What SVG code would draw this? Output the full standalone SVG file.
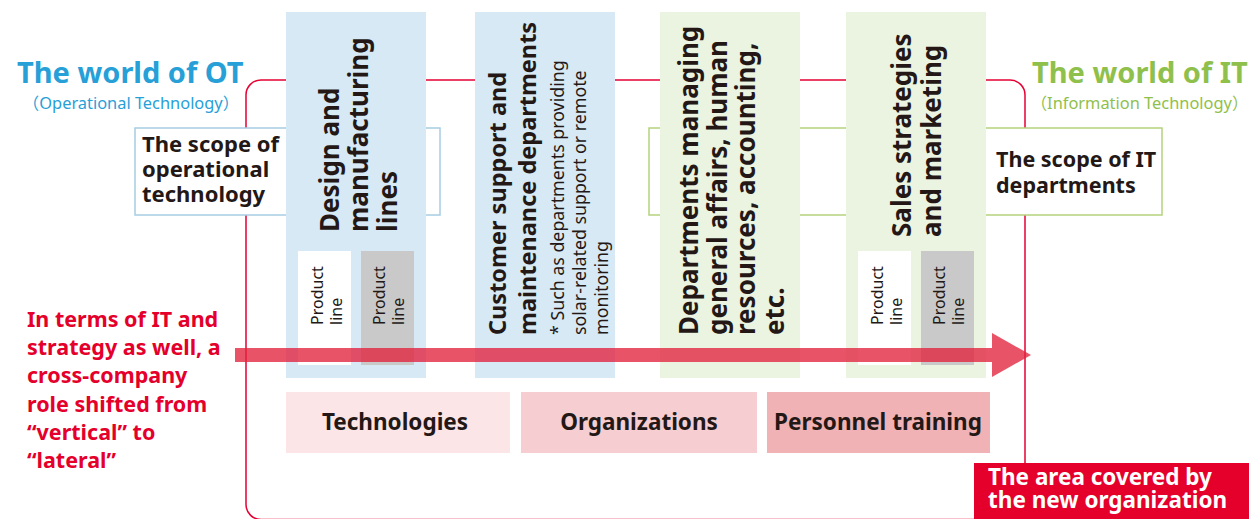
<svg xmlns="http://www.w3.org/2000/svg" width="1249" height="519" viewBox="0 0 1249 519">
<defs>
<style>
.t{font-family:"Noto Sans","Open Sans","Noto Sans CJK JP",sans-serif;fill:#231815}
.b{font-weight:bold}
.col{font-size:26px;font-weight:bold}
.col2{font-size:23.5px;font-weight:bold}
.note{font-size:17.8px}
.pl{font-size:16px}
.lab{font-size:22.5px;font-weight:bold;text-anchor:middle}
.blue{fill:#d7e9f4}
.green{fill:#ebf3e1}
</style>
</defs>
<rect width="1249" height="519" fill="#ffffff"/>

<g id="frame">
<rect x="246" y="80" width="779" height="439.5" rx="15" ry="15" fill="none" stroke="#e60033" stroke-width="1.5"/>
</g>

<g id="ot-title">
<text class="t b" x="17" y="83" font-size="29" style="fill:#27a0d8">The world of OT</text>
<text class="t" x="131" y="109" font-size="16.4" text-anchor="middle" style="fill:#27a0d8">（Operational Technology）</text>
</g>
<g id="it-title">
<text class="t b" x="1032" y="83" font-size="29" style="fill:#8fc04b">The world of IT</text>
<text class="t" x="1139.5" y="109" font-size="16.4" text-anchor="middle" style="fill:#8fc04b">（Information Technology）</text>
</g>

<g id="ot-scope">
<rect x="135" y="128" width="305" height="87" fill="#ffffff" stroke="#a7cde3" stroke-width="1.5"/>
<text class="t b" font-size="22"><tspan x="142" y="152">The scope of</tspan><tspan x="142" y="177">operational</tspan><tspan x="142" y="202">technology</tspan></text>
</g>
<g id="it-scope">
<rect x="649" y="128" width="513" height="87" fill="#ffffff" stroke="#b5d27c" stroke-width="1.5"/>
<text class="t b" font-size="21.5"><tspan x="996" y="167">The scope of IT</tspan><tspan x="996" y="193">departments</tspan></text>
</g>

<g id="col-design">
<rect class="blue" x="286" y="12" width="140" height="366"/>
<text class="t col" transform="translate(339,232) rotate(-90)"><tspan x="0" y="0">Design and</tspan><tspan x="0" y="29">manufacturing</tspan><tspan x="0" y="58">lines</tspan></text>
<rect x="298" y="251" width="53" height="114" fill="#ffffff"/>
<rect x="361" y="251" width="53" height="114" fill="#c9c9c9"/>
<text class="t pl" transform="translate(323,325) rotate(-90)"><tspan x="0" y="0">Product</tspan><tspan x="0" y="19">line</tspan></text>
<text class="t pl" transform="translate(385,325) rotate(-90)"><tspan x="0" y="0">Product</tspan><tspan x="0" y="19">line</tspan></text>
</g>

<g id="col-support">
<rect class="blue" x="475" y="12" width="140" height="366"/>
<text class="t col2" transform="translate(506,335) rotate(-90)"><tspan x="0" y="0">Customer support and</tspan><tspan x="0" y="30">maintenance departments</tspan></text>
<text class="t note" transform="translate(506,335) rotate(-90)"><tspan x="0" y="58">* Such as departments providing</tspan><tspan x="0" y="80">solar-related support or remote</tspan><tspan x="0" y="102">monitoring</tspan></text>
</g>

<g id="col-admin">
<rect class="green" x="660" y="12" width="140" height="366"/>
<text class="t col" transform="translate(698,335) rotate(-90)"><tspan x="0" y="0">Departments managing</tspan><tspan x="0" y="28.5">general affairs, human</tspan><tspan x="0" y="57">resources, accounting,</tspan><tspan x="0" y="85.5">etc.</tspan></text>
</g>

<g id="col-sales">
<rect class="green" x="846" y="12" width="140" height="366"/>
<text class="t col" transform="translate(911,237) rotate(-90)"><tspan x="0" y="0">Sales strategies</tspan><tspan x="0" y="30">and marketing</tspan></text>
<rect x="858" y="251" width="53" height="114" fill="#ffffff"/>
<rect x="921" y="251" width="53" height="114" fill="#c9c9c9"/>
<text class="t pl" transform="translate(883,325) rotate(-90)"><tspan x="0" y="0">Product</tspan><tspan x="0" y="19">line</tspan></text>
<text class="t pl" transform="translate(945,325) rotate(-90)"><tspan x="0" y="0">Product</tspan><tspan x="0" y="19">line</tspan></text>
</g>

<g id="box-tech">
<rect x="286" y="392" width="224" height="61" fill="#fbe5e6"/>
<text class="t lab" x="395" y="430">Technologies</text>
</g>
<g id="box-org">
<rect x="521" y="392" width="236" height="61" fill="#f6cdd0"/>
<text class="t lab" x="639" y="430">Organizations</text>
</g>
<g id="box-hr">
<rect x="767" y="392" width="223" height="61" fill="#f0b2b5"/>
<text class="t lab" x="878" y="430">Personnel training</text>
</g>

<g id="connectors">
<path d="M235,348 H992 V333 L1031,355 L992,377 V362 H235 Z" fill="#e2223d" fill-opacity="0.78"/>
</g>

<g id="shift-note">
<text class="t b" font-size="21.5" style="fill:#e4002b"><tspan x="27" y="327">In terms of IT and</tspan><tspan x="27" y="355">strategy as well, a</tspan><tspan x="27" y="383">cross-company</tspan><tspan x="27" y="411.5">role shifted from</tspan><tspan x="27" y="440">“vertical” to</tspan><tspan x="27" y="468">“lateral”</tspan></text>
</g>

<g id="new-org">
<rect x="974" y="463" width="275" height="56" fill="#e4002b"/>
<text class="t b" font-size="22.5" style="fill:#ffffff"><tspan x="988" y="485">The area covered by</tspan><tspan x="988" y="508">the new organization</tspan></text>
</g>
</svg>
